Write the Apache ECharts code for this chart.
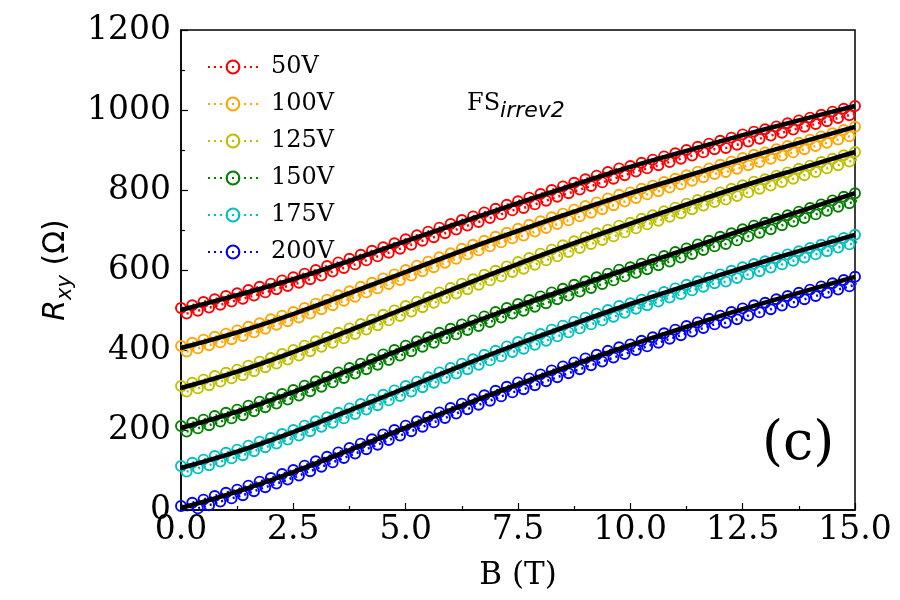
<!DOCTYPE html>
<html>
<head>
<meta charset="utf-8">
<script src="https://cdn.jsdelivr.net/npm/echarts@6/dist/echarts.min.js"></script>
<style>
  html, body { margin: 0; padding: 0; background: #fff; }
  #chart { width: 900px; height: 600px; }
</style>
</head>
<body>
<div id="chart"></div>
<script>
// field points B (T) of the upward sweep
const bFieldUp = [0, 0.25, 0.5, 0.75, 1, 1.25, 1.5, 1.75, 2, 2.25, 2.5, 2.75, 3, 3.25, 3.5, 3.75, 4, 4.25, 4.5, 4.75,
  5, 5.25, 5.5, 5.75, 6, 6.25, 6.5, 6.75, 7, 7.25, 7.5, 7.75, 8, 8.25, 8.5, 8.75, 9, 9.25, 9.5, 9.75,
  10, 10.25, 10.5, 10.75, 11, 11.25, 11.5, 11.75, 12, 12.25, 12.5, 12.75, 13, 13.25, 13.5, 13.75, 14, 14.25, 14.5, 14.75, 15];
// field points of the downward sweep (sampled in between)
const bFieldDn = [0.125, 0.375, 0.625, 0.875, 1.125, 1.375, 1.625, 1.875, 2.125, 2.375, 2.625, 2.875, 3.125, 3.375, 3.625, 3.875,
  4.125, 4.375, 4.625, 4.875, 5.125, 5.375, 5.625, 5.875, 6.125, 6.375, 6.625, 6.875, 7.125, 7.375, 7.625, 7.875,
  8.125, 8.375, 8.625, 8.875, 9.125, 9.375, 9.625, 9.875, 10.125, 10.375, 10.625, 10.875, 11.125, 11.375, 11.625, 11.875,
  12.125, 12.375, 12.625, 12.875, 13.125, 13.375, 13.625, 13.875, 14.125, 14.375, 14.625, 14.875, 15.125];

// fit curve knots
const bFit = [0, 1.25, 2.5, 3.75, 5, 6.25, 7.5, 8.75, 10, 11.25, 12.5, 13.75, 15];

const labels = ["50V", "100V", "125V", "150V", "175V", "200V"];
const colors = ["#ff0000", "#ffa500", "#bfbf00", "#008000", "#00bfbf", "#0000ff"];

// R_xy (Ohm), upper and lower sweep for each gate voltage
const r50Up = [505, 512, 520, 527, 535, 542, 550, 558, 566, 574, 582, 591, 600, 610, 619, 628, 638, 648, 657, 667,
  677, 687, 696, 706, 715, 725, 734, 744, 753, 763, 772, 781, 790, 800, 809, 818, 827, 836, 845, 854,
  860, 868, 876, 884, 892, 900, 908, 916, 923, 931, 939, 946, 952, 959, 967, 974, 981, 988, 996, 1003, 1010];
const r50Dn = [491, 498, 506, 513, 521, 528, 536, 544, 552, 560, 568, 577, 586, 596, 605, 614, 624, 634, 643, 653,
  663, 673, 682, 692, 701, 711, 720, 730, 739, 749, 755, 764, 773, 783, 792, 801, 810, 819, 828, 837,
  846, 854, 862, 870, 878, 886, 894, 902, 905, 913, 921, 928, 936, 943, 951, 958, 965, 972, 980, 987, 994];

const r100Up = [410, 418, 426, 433, 441, 449, 458, 467, 477, 486, 495, 505, 516, 526, 537, 547, 558, 568, 579, 589,
  600, 611, 621, 632, 642, 653, 663, 673, 683, 693, 703, 713, 722, 732, 741, 751, 760, 769, 779, 788,
  794, 803, 811, 820, 828, 837, 846, 854, 863, 871, 880, 888, 894, 902, 910, 918, 926, 934, 942, 950, 958];
const r100Dn = [396, 404, 412, 419, 427, 435, 444, 453, 463, 472, 481, 491, 502, 512, 523, 533, 544, 554, 565, 575,
  586, 597, 607, 618, 628, 639, 649, 659, 669, 679, 686, 696, 705, 715, 724, 734, 743, 752, 762, 771,
  780, 789, 797, 806, 814, 823, 832, 840, 845, 853, 862, 870, 878, 886, 894, 902, 910, 918, 926, 934, 942];

const r125Up = [310, 318, 326, 335, 343, 351, 361, 371, 380, 390, 400, 411, 422, 432, 443, 454, 465, 476, 488, 499,
  510, 521, 532, 544, 555, 566, 577, 588, 598, 609, 620, 630, 641, 651, 662, 672, 682, 692, 701, 711,
  718, 728, 737, 747, 756, 766, 775, 784, 794, 803, 812, 821, 827, 836, 844, 853, 861, 870, 878, 887, 895];
const r125Dn = [296, 304, 312, 321, 329, 337, 347, 357, 366, 376, 386, 397, 408, 418, 429, 440, 451, 462, 474, 485,
  496, 507, 518, 530, 541, 552, 563, 574, 584, 595, 603, 613, 624, 634, 645, 655, 665, 675, 684, 694,
  704, 714, 723, 733, 742, 752, 761, 770, 776, 785, 794, 803, 811, 820, 828, 837, 845, 854, 862, 871, 879];

const r150Up = [210, 218, 226, 235, 243, 251, 261, 271, 280, 290, 300, 311, 322, 333, 344, 355, 366, 377, 389, 400,
  411, 422, 432, 443, 453, 464, 474, 484, 495, 505, 515, 525, 534, 544, 553, 563, 572, 582, 591, 601,
  607, 616, 626, 635, 645, 654, 664, 673, 683, 692, 702, 711, 718, 728, 737, 746, 755, 764, 774, 783, 792];
const r150Dn = [196, 204, 212, 221, 229, 237, 247, 257, 266, 276, 286, 297, 308, 319, 330, 341, 352, 363, 375, 386,
  397, 408, 418, 429, 439, 450, 460, 470, 481, 491, 498, 508, 517, 527, 536, 546, 555, 565, 574, 584,
  593, 602, 612, 621, 631, 640, 650, 659, 665, 674, 684, 693, 702, 712, 721, 730, 739, 748, 758, 767, 776];

const r175Up = [110, 118, 126, 135, 143, 151, 161, 171, 180, 190, 200, 211, 222, 232, 243, 254, 265, 276, 288, 299,
  310, 321, 332, 344, 355, 366, 377, 388, 398, 409, 420, 430, 440, 451, 461, 471, 481, 491, 500, 510,
  517, 526, 535, 545, 554, 563, 572, 581, 589, 598, 607, 615, 622, 630, 639, 647, 655, 663, 672, 680, 688];
const r175Dn = [96, 104, 112, 121, 129, 137, 147, 157, 166, 176, 186, 197, 208, 218, 229, 240, 251, 262, 274, 285,
  296, 307, 318, 330, 341, 352, 363, 374, 384, 395, 403, 413, 423, 434, 444, 454, 464, 474, 483, 493,
  503, 512, 521, 531, 540, 549, 558, 567, 571, 580, 589, 597, 606, 614, 623, 631, 639, 647, 656, 664, 672];

const r200Up = [10, 18, 26, 35, 43, 51, 61, 71, 80, 90, 100, 111, 122, 133, 144, 155, 166, 177, 189, 200,
  211, 222, 233, 244, 255, 266, 277, 287, 298, 308, 319, 329, 339, 349, 359, 369, 379, 388, 398, 407,
  414, 423, 432, 442, 451, 460, 469, 478, 486, 495, 504, 512, 518, 527, 535, 543, 551, 559, 567, 575, 583];
const r200Dn = [-4, 4, 12, 21, 29, 37, 47, 57, 66, 76, 86, 97, 108, 119, 130, 141, 152, 163, 175, 186,
  197, 208, 219, 230, 241, 252, 263, 273, 284, 294, 302, 312, 322, 332, 342, 352, 362, 371, 381, 390,
  400, 409, 418, 428, 437, 446, 455, 464, 468, 477, 486, 494, 502, 511, 519, 527, 535, 543, 551, 559, 567];

// fit values at bFit
const fit50 = [500, 537, 577, 623, 672, 720, 767, 813, 858, 898, 937, 974, 1010];
const fit100 = [405, 444, 490, 542, 595, 648, 698, 746, 792, 835, 878, 918, 958];
const fit125 = [305, 346, 395, 449, 505, 561, 615, 667, 716, 764, 810, 853, 895];
const fit150 = [205, 246, 295, 350, 406, 459, 510, 558, 605, 652, 700, 746, 792];
const fit175 = [105, 146, 195, 249, 305, 361, 415, 466, 515, 561, 605, 647, 688];
const fit200 = [5, 46, 95, 150, 206, 261, 314, 364, 412, 458, 502, 543, 583];

const upSweeps = [r50Up, r100Up, r125Up, r150Up, r175Up, r200Up];
const dnSweeps = [r50Dn, r100Dn, r125Dn, r150Dn, r175Dn, r200Dn];
const fits = [fit50, fit100, fit125, fit150, fit175, fit200];

const serif = "DejaVu Serif";
const sans = "DejaVu Sans";

function pairs(xs, ys) {
  return xs.map((x, i) => [x, ys[i]]);
}

function dataSeries(name, color, xs, values) {
  return {
    name: name,
    type: "line",
    data: pairs(xs, values),
    symbol: "circle",
    symbolSize: 10,
    showSymbol: true,
    lineStyle: { color: color, width: 2.5, type: [2, 4] },
    itemStyle: { color: "rgba(255,255,255,0)", borderColor: color, borderWidth: 1.9 },
    emphasis: { disabled: true },
    animation: false,
    z: 2
  };
}

let series = [];
labels.forEach((name, k) => {
  series.push(dataSeries(name, colors[k], bFieldUp, upSweeps[k]));
  series.push(dataSeries(name, colors[k], bFieldDn, dnSweeps[k]));
});
fits.forEach(values => {
  series.push({
    name: "fit",
    type: "line",
    data: pairs(bFit, values),
    smooth: 0.4,
    symbol: "none",
    lineStyle: { color: "#000", width: 4.5 },
    animation: false,
    z: 5
  });
});

const chart = echarts.init(document.getElementById("chart"));

let option = {
  backgroundColor: "#fff",
  animation: false,
  grid: {
    left: 181,
    right: 45,
    top: 30,
    bottom: 90,
    show: true,
    borderColor: "#000",
    borderWidth: 1.5,
    backgroundColor: "transparent"
  },
  legend: {
    data: labels,
    orient: "vertical",
    left: 202,
    top: 50,
    itemWidth: 50,
    itemHeight: 16,
    itemGap: 13,
    textStyle: {
      fontFamily: serif,
      fontSize: 24,
      color: "#000",
      lineHeight: 24,
      padding: [0, 0, 0, 8]
    }
  },
  xAxis: {
    type: "value",
    min: 0,
    max: 15,
    interval: 2.5,
    name: "B (T)",
    nameLocation: "middle",
    nameGap: 50,
    nameTextStyle: { fontFamily: serif, fontSize: 31, color: "#000" },
    axisLine: { lineStyle: { color: "#000", width: 1.5 } },
    axisTick: { inside: true, length: 7, lineStyle: { color: "#000", width: 1.2 } },
    minorTick: { show: true, splitNumber: 2, length: 4, lineStyle: { color: "#000", width: 1.2 } },
    splitLine: { show: false },
    axisLabel: {
      fontFamily: serif,
      fontSize: 33,
      color: "#000",
      margin: 4,
      formatter: v => v.toFixed(1)
    }
  },
  yAxis: {
    type: "value",
    min: 0,
    max: 1200,
    interval: 200,
    name: "{i|R}{s|xy}{n| (Ω)}",
    nameLocation: "middle",
    nameGap: 100,
    nameTextStyle: {
      rich: {
        i: { fontFamily: sans, fontStyle: "italic", fontSize: 30, color: "#000", lineHeight: 40, verticalAlign: "middle" },
        s: { fontFamily: sans, fontStyle: "italic", fontSize: 21, color: "#000", lineHeight: 40, verticalAlign: "bottom" },
        n: { fontFamily: sans, fontSize: 30, color: "#000", lineHeight: 40, verticalAlign: "middle" }
      }
    },
    axisLine: { lineStyle: { color: "#000", width: 1.5 } },
    axisTick: { inside: true, length: 7, lineStyle: { color: "#000", width: 1.2 } },
    minorTick: { show: true, splitNumber: 2, length: 4, lineStyle: { color: "#000", width: 1.2 } },
    splitLine: { show: false },
    axisLabel: { fontFamily: serif, fontSize: 33, color: "#000", margin: 10, formatter: v => String(v) }
  },
  graphic: [
    {
      type: "text",
      left: 467,
      top: 92,
      style: {
        text: "{a|FS}{b|irrev2}",
        rich: {
          a: { fontFamily: serif, fontSize: 24, fill: "#000", lineHeight: 36, verticalAlign: "middle" },
          b: { fontFamily: sans, fontStyle: "italic", fontSize: 22, fill: "#000", lineHeight: 36, verticalAlign: "bottom" }
        }
      }
    },
    {
      type: "text",
      left: 762,
      top: 418,
      style: { text: "(c)", fontFamily: serif, fontSize: 54, fill: "#000" }
    }
  ],
  series: series
};

chart.setOption(option);
</script>
</body>
</html>
